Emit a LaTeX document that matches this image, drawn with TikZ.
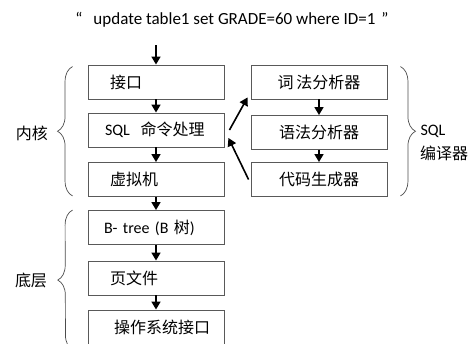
\documentclass[tikz,border=0pt]{standalone}
\usepackage{fontspec}
\setmainfont{Carlito}
\newfontfamily\cjk{Noto Sans CJK SC}
\usetikzlibrary{arrows.meta,decorations.pathreplacing}

\begin{document}
\begin{tikzpicture}[x=1pt, y=-1pt, font=\fontsize{16}{19}\selectfont,
    box/.style={draw=black!65, line width=0.9pt, minimum width=136pt, minimum height=34pt, inner sep=0pt},
    lbox/.style={box, text width=136pt, align=left},
    flow/.style={line width=1.6pt, -{Triangle[length=8pt,width=9pt]}},
    curly/.style={draw=black!70, line width=0.7pt, decorate, decoration={brace, amplitude=15pt}}]
    \useasboundingbox (0,0) rectangle (474,343);

    % Statement
    \node (stmt) at (232,20) {\fontsize{17}{19}\selectfont “\hspace{11pt}update table1 set GRADE=60 where ID=1\hspace{6pt}”};
    \coordinate (entry) at (156,45);

    % Kernel
    \node[lbox] (iface) at (156,82) {\hspace*{22pt}\cjk 接口};
    \node[lbox] (sqlcmd) at (156,130) {\hspace*{17pt}SQL\ \ {\cjk 命令处理}};
    \node[lbox] (vm) at (156,179.5) {\hspace*{22pt}\cjk 虚拟机};

    % SQL compiler
    \node[box] (lexer) at (319,82) {\cjk 词\,法分析器};
    \node[box] (parser) at (319,132.5) {\cjk 语法分析器};
    \node[box] (codegen) at (319,179.5) {\cjk 代码生成器};

    % Backend
    \node[lbox] (btree) at (156,227.5) {\hspace*{16pt}B- tree (B {\cjk 树})};
    \node[lbox] (pager) at (156,278) {\hspace*{22pt}\cjk 页文件};
    \node[lbox] (osif) at (156,327) {\hspace*{26pt}\cjk 操作系统接口};

    % Arrows
    \draw[flow] (entry) -- (iface);
    \draw[flow] (iface) -- (sqlcmd);
    \draw[flow] (sqlcmd) -- (vm);
    \draw[flow] (vm) -- (btree);
    \draw[flow] (btree) -- (pager);
    \draw[flow] (pager) -- (osif);
    \draw[flow] (lexer) -- (parser);
    \draw[flow] (parser) -- (codegen);
    \draw[flow] ([xshift=5pt]sqlcmd.east) -- ([xshift=-3pt,yshift=2pt]lexer.south west);
    \draw[flow] ([xshift=-2pt]codegen.west) -- ([xshift=4pt,yshift=-8pt]sqlcmd.east);

    % Braces
    \coordinate (base) at (73,350);
    \draw[curly] ([xshift=-15pt,yshift=1pt]vm.south west) -- ([xshift=-15pt,yshift=-2pt]iface.north west);
    \draw[curly] (base) -- ([xshift=-15pt]btree.north west);
    \draw[curly] ([xshift=13pt,yshift=-2pt]lexer.north east) -- ([xshift=13pt,yshift=1pt]codegen.south east);

    % Labels
    \node (kernel) at (32,133) {\cjk 内核};
    \node (lower) at (31,280) {\cjk 底层};
    \node (sqlname) at (433,131) {SQL};
    \node (compname) at (444,153) {\cjk 编译器};
\end{tikzpicture}
\end{document}
